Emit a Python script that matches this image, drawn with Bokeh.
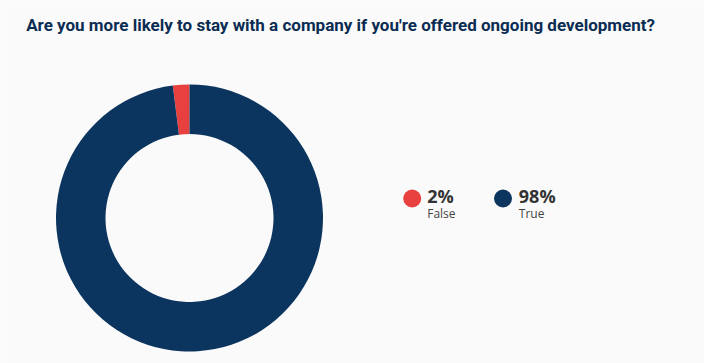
import math
from bokeh.plotting import figure
from bokeh.models import ColumnDataSource, Range1d
from bokeh.core.properties import value
from bokeh.embed import file_html
from bokeh.resources import INLINE

title = "Are you more likely to stay with a company if you're offered ongoing development?"
labels = ["False", "True"]
percents = [2, 98]
colors = ["#e8403f", "#0b345e"]

W, H = 704, 363
p = figure(width=W, height=H, output_backend="svg", toolbar_location=None,
           x_range=Range1d(0, W), y_range=Range1d(0, H),
           x_axis_location=None, y_axis_location=None, min_border=0,
           background_fill_color="#fafafa", border_fill_color="#fafafa",
           outline_line_color=None)
p.grid.visible = False

# donut
starts, ends = [], []
acc = 90.0
for v in percents:
    starts.append(math.radians(acc))
    acc += v / 100 * 360
    ends.append(math.radians(acc))
src = ColumnDataSource(dict(start=starts, end=ends, color=colors))
p.annular_wedge(x=189, y=145.5, inner_radius=84, outer_radius=133.5,
                start_angle="start", end_angle="end", direction="anticlock",
                fill_color="color", line_color=None, source=src)

# title
p.text(x=[25.7], y=[H - 24], text=[title], text_font=value("Roboto"),
       text_font_style="bold", text_font_size="17px", text_color="#0b2c52",
       text_baseline="alphabetic", text_align="left")

# legend
lx = [411.7, 502.5]
tx = [426.7, 518.3]
p.scatter(x=lx, y=[165, 165], size=18, marker="circle", fill_color=colors, line_color=None)
p.text(x=tx, y=[167.5, 167.5], text=[f"{v}%" for v in percents], text_font=value("Open Sans"),
       text_font_style="bold", text_font_size="18px", text_color="#333333",
       text_baseline="alphabetic", text_align="left")
p.text(x=tx, y=[150.5, 150.5], text=labels, text_font=value("Open Sans"),
       text_font_size="12px", text_color="#444444",
       text_baseline="alphabetic", text_align="left")

open("out.html", "w").write(file_html(p, INLINE))
